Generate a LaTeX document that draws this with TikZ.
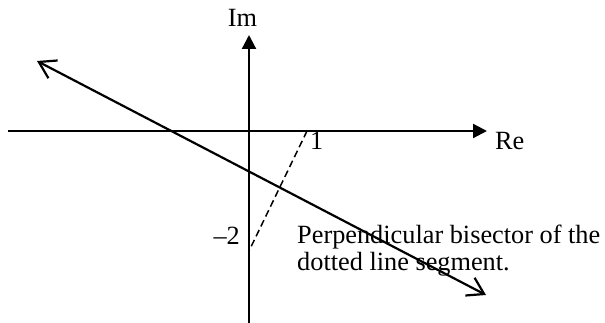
\documentclass[tikz,border=0pt]{standalone}
\usepackage{fontspec}
\setmainfont{Liberation Serif}
\usetikzlibrary{arrows.meta}
\begin{document}
\begin{tikzpicture}[x=1pt,y=-1pt,
  axis/.style={line width=2.2pt,-{Triangle[length=14pt,width=14pt]}},
  bisect/.style={line width=2.2pt,{Straight Barb[length=16pt,width=20pt,line width=2.2pt]}-{Straight Barb[length=16pt,width=20pt,line width=2.2pt]}},
  seg/.style={line width=1.5pt,dash pattern=on 7pt off 4pt},
  lbl/.style={font=\fontsize{26.3}{27}\selectfont,inner sep=0pt}]
\useasboundingbox (0,0) rectangle (605,323);
\coordinate (xl) at (8,131);
\coordinate (xr) at (487,131);
\coordinate (yb) at (249,323);
\coordinate (yt) at (249,35);
\coordinate (dl) at (37,61);
\coordinate (dr) at (486,295);
\coordinate (p1) at (307,131);
\coordinate (pm2) at (249,251);
\draw[axis] (xl) -- (xr);
\draw[axis] (yb) -- (yt);
\draw[bisect] (dl) -- (dr);
\draw[seg] (p1) -- (pm2);
\node[lbl,anchor=base] (im) at (242.5,27) {Im};
\node[lbl,anchor=base west] (re) at (495,150) {Re};
\node[lbl,anchor=base west] (one) at (310,150) {1};
\node[lbl,anchor=base east] (mtwo) at (240,244) {–2};
\node[lbl,anchor=base west,align=left] (txt) at (297,270) {Perpendicular bisector of the\\dotted line segment.};
\end{tikzpicture}
\end{document}
